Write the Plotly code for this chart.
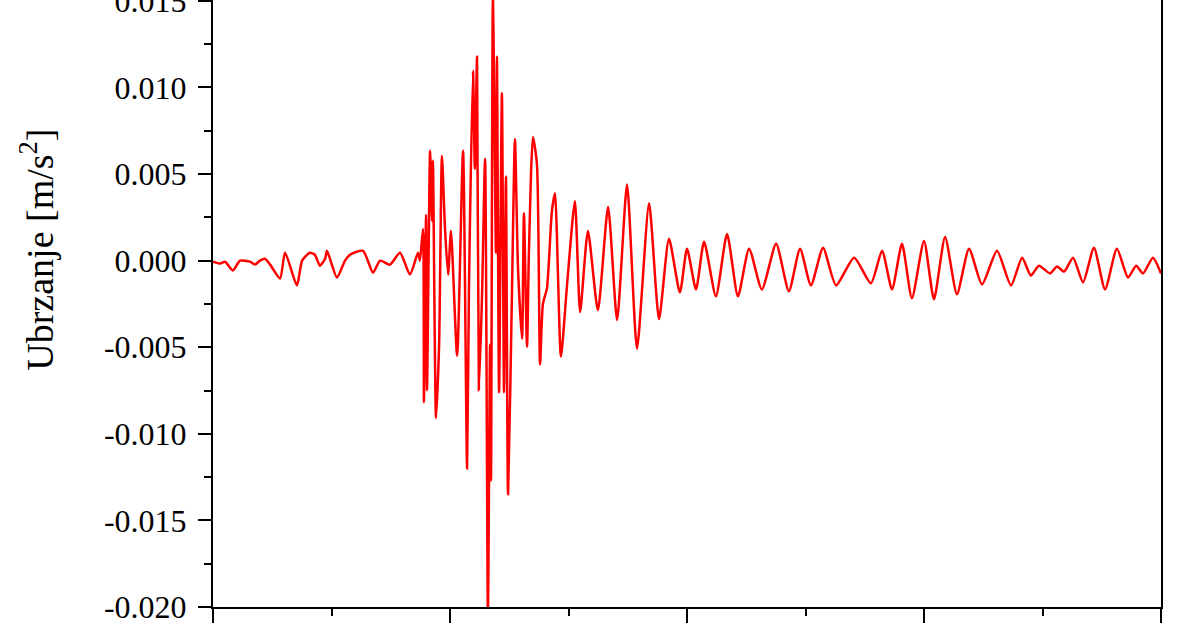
import plotly.graph_objects as go

# time [s] (x axis labels not visible in the reference; 0-40 span)
t = [0.00, 0.30, 0.51, 0.84, 1.14, 1.56, 1.77, 1.98, 2.19, 2.41, 2.83, 3.04, 3.54, 3.76,
     4.09, 4.30, 4.51, 4.73, 4.81, 5.23, 5.57, 5.78, 6.33, 6.75, 7.05, 7.47, 7.89, 8.31,
     8.65, 8.73, 8.86, 8.90, 8.99, 9.03, 9.16, 9.24, 9.28, 9.41, 9.54, 9.66, 9.79, 9.92,
     10.04, 10.30, 10.55, 10.72, 10.80, 10.97, 11.05, 11.14, 11.22, 11.35, 11.48, 11.60,
     11.69, 11.73, 11.81, 11.94, 11.98, 12.07, 12.19, 12.28, 12.36, 12.45, 12.62, 12.74,
     12.87, 13.04, 13.12, 13.25, 13.33, 13.50, 13.67, 13.80, 13.92, 14.09, 14.30, 14.43,
     14.68, 14.94, 15.27, 15.49, 15.82, 16.24, 16.67, 17.05, 17.47, 17.89, 18.40, 18.82,
     19.24, 19.70, 20.00, 20.38, 20.72, 21.22, 21.69, 22.15, 22.62, 23.16, 23.76, 24.30,
     24.77, 25.23, 25.74, 26.29, 27.05, 27.76, 28.23, 28.65, 29.07, 29.49, 30.00, 30.42,
     30.89, 31.39, 31.90, 32.45, 33.08, 33.67, 34.14, 34.51, 34.85, 35.32, 35.61, 35.91,
     36.29, 36.71, 37.17, 37.64, 38.14, 38.61, 38.95, 39.24, 39.66, 40.00]

# acceleration [m/s^2]
acc = [-0.00006, -0.00017, -0.00006, -0.00057, 0.00000, -0.00006, -0.00023, 0.00000, 0.00011,
       -0.00023, -0.00103, 0.00046, -0.00143, 0.00000, 0.00046, 0.00034, -0.00029, 0.00011,
       0.00057, -0.00097, 0.00000, 0.00034, 0.00057, -0.00069, 0.00000, -0.00023, 0.00046,
       -0.00080, 0.00046, 0.00000, 0.00183, -0.00817, 0.00263, -0.00749, 0.00634, 0.00229,
       0.00577, -0.00909, -0.00486, 0.00606, 0.00183, -0.00080, 0.00171, -0.00549, 0.00634,
       -0.01200, -0.00160, 0.01097, 0.00531, 0.01177, -0.00749, -0.00206, 0.00589, -0.02050,
       -0.00486, -0.01269, 0.01520, 0.00046, 0.01177, -0.00760, 0.00966, -0.00760, 0.00486,
       -0.01349, -0.00137, 0.00703, -0.00046, -0.00451, 0.00274, -0.00497, 0.00046, 0.00714,
       0.00554, -0.00600, -0.00251, -0.00160, 0.00286, 0.00389, -0.00554, -0.00137, 0.00343,
       -0.00297, 0.00171, -0.00286, 0.00309, -0.00343, 0.00440, -0.00509, 0.00331, -0.00337,
       0.00126, -0.00183, 0.00069, -0.00166, 0.00109, -0.00206, 0.00154, -0.00206, 0.00069,
       -0.00166, 0.00097, -0.00177, 0.00069, -0.00143, 0.00074, -0.00143, 0.00017, -0.00131,
       0.00057, -0.00166, 0.00097, -0.00217, 0.00114, -0.00223, 0.00137, -0.00194, 0.00069,
       -0.00137, 0.00057, -0.00143, 0.00017, -0.00086, -0.00029, -0.00074, -0.00034, -0.00063,
       0.00017, -0.00126, 0.00074, -0.00166, 0.00069, -0.00097, -0.00029, -0.00074, 0.00017,
       -0.00074]

y_tick_vals = [-0.020, -0.015, -0.010, -0.005, 0.000, 0.005, 0.010, 0.015]
y_tick_text = ["-0.020", "-0.015", "-0.010", "-0.005", "0.000", "0.005", "0.010", "0.015"]
y_minor_vals = [-0.0175, -0.0125, -0.0075, -0.0025, 0.0025, 0.0075, 0.0125]
x_tick_vals = [0, 10, 20, 30, 40]
y_title = "Ubrzanje [m/s<sup>2</sup>]"

FONT = "Liberation Serif, Times New Roman, serif"

fig = go.Figure()
fig.add_trace(go.Scatter(x=t, y=acc, mode="lines",
                         line=dict(color="#ff0000", width=2.5, shape="spline", smoothing=0.6),
                         showlegend=False, hoverinfo="skip"))

fig.update_layout(
    width=1200, height=630,
    margin=dict(l=213, r=39, t=0, b=23, autoexpand=False),
    paper_bgcolor="white", plot_bgcolor="white",
    font=dict(family=FONT, color="black", size=32),
    xaxis=dict(range=[0, 40], tickvals=x_tick_vals, showticklabels=False, automargin=False,
               ticks="outside", ticklen=14, tickwidth=2, tickcolor="black",
               minor=dict(ticks="outside", ticklen=7, tickwidth=2, tickcolor="black", dtick=5),
               showline=True, linecolor="black", linewidth=2, mirror=False,
               showgrid=False, zeroline=False),
    yaxis=dict(range=[-0.020, 0.01505], tickvals=y_tick_vals, ticktext=y_tick_text,
               automargin=False,
               ticks="outside", ticklen=13, tickwidth=2, tickcolor="black",
               ticklabelstandoff=5, ticklabeloverflow="allow",
               minor=dict(ticks="outside", ticklen=7, tickwidth=2, tickcolor="black",
                          tickvals=y_minor_vals),
               tickfont=dict(family=FONT, size=32, color="black"),
               showline=True, linecolor="black", linewidth=2, mirror=True,
               showgrid=False, zeroline=False),
    annotations=[dict(text=y_title, xref="paper", yref="paper", x=-0.186, y=0.588,
                      xanchor="center", yanchor="middle", textangle=-90, showarrow=False,
                      font=dict(family=FONT, size=38, color="black"))],
)

fig.write_html("out.html", config={"displayModeBar": False},
               post_script="document.body.style.margin='0';document.body.style.overflow='hidden';")
